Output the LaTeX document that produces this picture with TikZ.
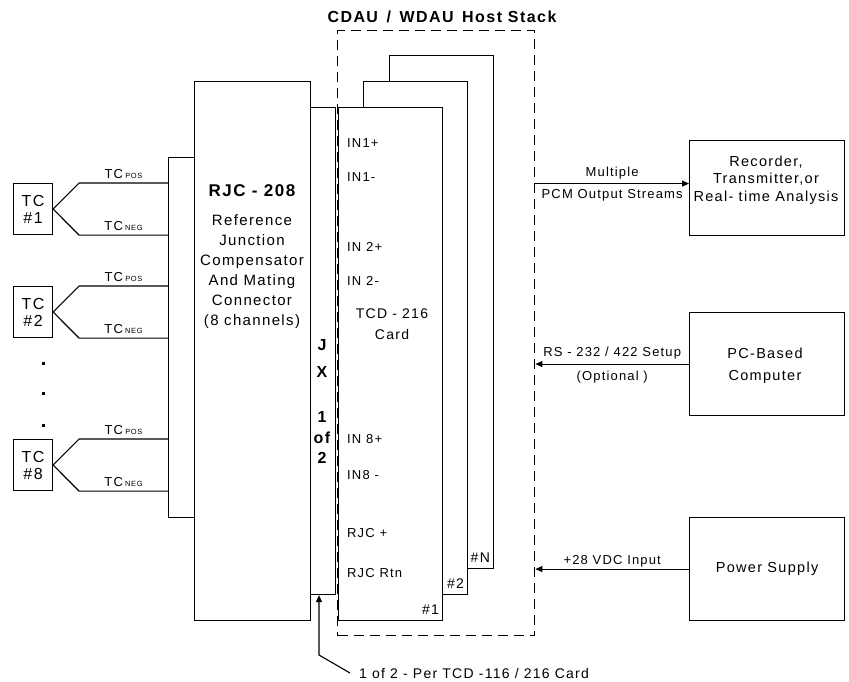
\documentclass[tikz,border=0pt]{standalone}
\usepackage{fontspec}
\setmainfont{Liberation Sans}[LetterSpace=9]
\usetikzlibrary{arrows.meta,positioning}

\tikzset{
  box/.style={draw, line width=1.1pt, inner sep=0pt, anchor=north west, align=center},
  wire/.style={line width=1.1pt},
  arr/.style={line width=1.1pt, -{Triangle[length=7pt,width=6pt]}},
  lbl/.style={inner sep=1pt, font=\fontsize{13}{15}\selectfont},
  boxtxt/.style={align=center, font=\fontsize{14.5}{18}\selectfont},
}

\begin{document}
\begin{tikzpicture}[x=1pt,y=-1pt]
    \useasboundingbox (0,0) rectangle (849,681);

    % ホストスタック（破線の枠）
    \node[draw, line width=1.4pt, dash pattern=on 10pt off 6pt, inner sep=0pt,
          anchor=north west, minimum width=197pt, minimum height=605pt] (host) at (337,30) {};
    \node[font=\bfseries\fontsize{16}{18}\selectfont] (title) at (442,17) {CDAU\ \,/\ \,WDAU\ \,Host Stack};

    % カード（奥から順に重ねる）
    \foreach \name/\x/\y/\tag in {cardN/389/55/\#N, card2/363/81/\#2, card1/338/107/\#1} {
        \node[box, fill=white, minimum width=104pt, minimum height=513pt] (\name) at (\x,\y) {};
        \node[lbl, font=\fontsize{14}{16}\selectfont, anchor=south east] (\name tag)
            at ([shift={(-3pt,5pt)}]\name.south east) {\tag};
    }
    \foreach \t/\y [count=\i] in {IN1+/143, IN1-/177, IN 2+/247, IN 2-/281,
                                  IN 8+/439, IN8 -/475, RJC +/533, RJC Rtn/573} {
        \node[lbl, anchor=west] (pin\i) at (346,\y) {\t};
    }
    \node[align=center, font=\fontsize{14}{21}\selectfont] (cardname) at (392,324) {TCD - 216\\Card};

    % コネクタ・RJC・JX
    \node[box, minimum width=26pt, minimum height=360pt] (plate) at (168,157) {};
    \node[box, minimum width=116pt, minimum height=539pt] (rjc) at (194,81) {};
    \node[box, minimum width=25pt, minimum height=487pt] (jx) at (310,107) {};
    \node[font=\bfseries\fontsize{17}{19}\selectfont] (rjcname) at (252,191) {RJC - 208};
    \node[align=center, font=\fontsize{15}{20}\selectfont, anchor=north] (rjcdesc) at (252,211)
        {Reference\\Junction\\Compensator\\And Mating\\Connector\\(8 channels)};
    \foreach \t/\y [count=\i] in {J/345, X/372, 1/417, of/438, 2/458} {
        \node[font=\bfseries\fontsize{16}{17}\selectfont, inner sep=0pt] (jxl\i) at (322,\y) {\t};
    }

    % 熱電対
    \foreach \n/\y in {1/183, 2/286, 8/439} {
        \node[box, minimum width=39pt, minimum height=51pt, font=\fontsize{16}{17}\selectfont] (tc\n) at (13,\y) {TC\\\#\n};
        \draw[wire] (tc\n.east) -- ([xshift=26pt]tc\n.north east) -- (tc\n.north east -| plate.west)
            node[lbl, midway, above=3pt] (pos\n) {TC\,{\fontsize{7.5}{8}\selectfont POS}};
        \draw[wire] (tc\n.east) -- ([xshift=26pt]tc\n.south east) -- (tc\n.south east -| plate.west)
            node[lbl, midway, above=3pt] (neg\n) {TC\,{\fontsize{7.5}{8}\selectfont NEG}};
    }
    \foreach \y in {363,393,425} {
        \fill (41.5,\y-1.5) rectangle +(3,3);
    }

    % 右側の機器
    \node[box, minimum width=155pt, minimum height=95pt] (rec) at (689,140) {};
    \node[boxtxt, font=\fontsize{14.5}{17.5}\selectfont] (rectext) at (766,180)
        {Recorder,\\Transmitter,or\\Real- time Analysis};
    \node[box, minimum width=155pt, minimum height=103pt] (pc) at (689,312) {};
    \node[boxtxt, font=\fontsize{14.5}{22}\selectfont] (pctext) at (765,366) {PC-Based\\Computer};
    \node[box, boxtxt, minimum width=155pt, minimum height=103pt] (psu) at (689,517)
        {Power Supply};

    \draw[arr] ([yshift=4.5pt]rec.west -| host.east) -- ([yshift=4.5pt]rec.west)
        node[lbl, midway, above=3pt] (pcmtop) {Multiple}
        node[lbl, midway, below=4pt] (pcmbot) {PCM Output Streams};
    \draw[arr] (pc.west) -- (pc.west -| host.east)
        node[lbl, midway, above=3pt] (rstop) {RS - 232 / 422 Setup}
        node[lbl, midway, below=5pt] (rsbot) {(Optional )};
    \draw[arr] (psu.west) -- (psu.west -| host.east)
        node[lbl, midway, above=0pt] (pwr) {+28 VDC Input};

    % JXの注記
    \node[lbl, font=\fontsize{14}{16}\selectfont, anchor=west] (note) at (358,673) {1 of 2 - Per TCD -116 / 216 Card};
    \coordinate (bend) at (319,655);
    \draw[arr] ([xshift=-8pt]note.west) -- (bend) -- (bend |- jx.south);

\end{tikzpicture}
\end{document}
